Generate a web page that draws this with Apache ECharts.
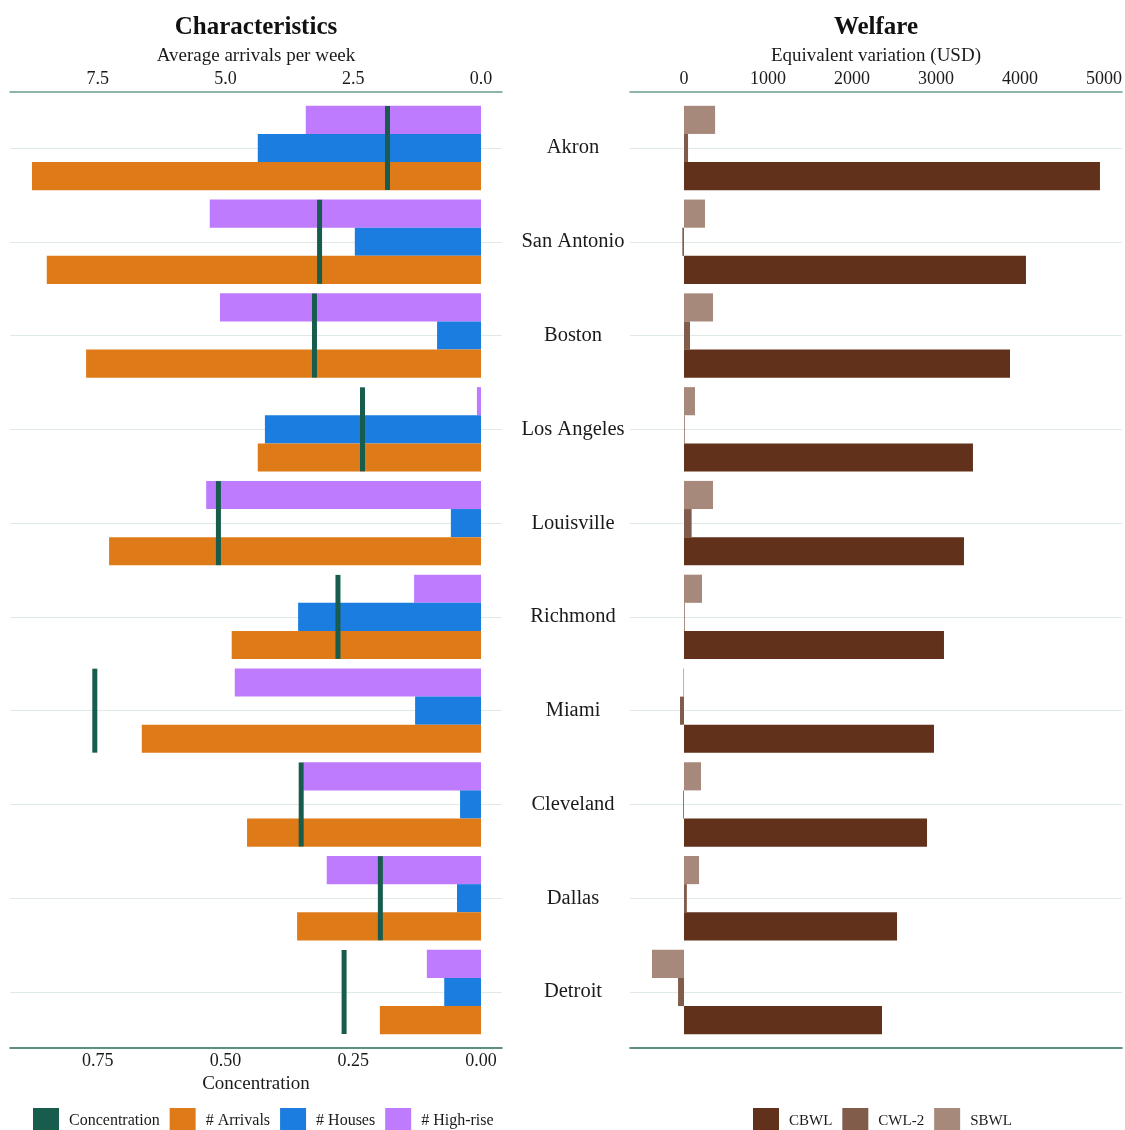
<!DOCTYPE html>
<html>
<head>
<meta charset="utf-8">
<script src="https://cdn.jsdelivr.net/npm/echarts@6/dist/echarts.min.js"></script>
<style>
  html, body { margin: 0; padding: 0; background: #fff; }
  #chart { width: 1125px; height: 1130px; }
</style>
</head>
<body>
<div id="chart"></div>
<script>
// data
var cities = ['Akron', 'San Antonio', 'Boston', 'Los Angeles', 'Louisville', 'Richmond', 'Miami', 'Cleveland', 'Dallas', 'Detroit'];
var arrivals = [8.79, 8.50, 7.73, 4.37, 7.28, 4.88, 6.64, 4.58, 3.60, 1.98];
var houses = [4.37, 2.47, 0.86, 4.23, 0.59, 3.58, 1.29, 0.41, 0.47, 0.72];
var highrise = [3.43, 5.31, 5.11, 0.08, 5.38, 1.31, 4.82, 3.48, 3.02, 1.06];
var concentration = [0.183, 0.316, 0.326, 0.232, 0.514, 0.280, 0.756, 0.352, 0.197, 0.268];
var cbwl = [4952, 4071, 3881, 3440, 3333, 3095, 2976, 2893, 2536, 2357];
var cwl2 = [48, -20, 71, 8, 91, 8, -48, -10, 34, -71];
var sbwl = [370, 250, 345, 131, 345, 214, -8, 202, 179, -381];
var arrivalTicks = [0, 2.5, 5, 7.5];
var concTicks = [0, 0.25, 0.5, 0.75];
var welfareTicks = [0, 1000, 2000, 3000, 4000, 5000];

var FONT = 'Liberation Serif';
var TXT = '#1a1a1a';

function topAxis(grid, min, max, ticks, fmt, name, lineColor) {
    return {
        type: 'value', gridIndex: grid, position: 'top', offset: 56,
        min: min, max: max, inverse: grid === 0,
        name: name, nameLocation: 'middle', nameGap: 25,
        nameTextStyle: {fontFamily: FONT, fontSize: 19, color: TXT},
        axisLine: {show: true, lineStyle: {color: lineColor, width: 1.5}},
        axisTick: {show: false},
        splitLine: {show: false},
        axisLabel: {customValues: ticks, formatter: fmt, margin: 4,
            fontFamily: FONT, fontSize: 18, color: TXT}
    };
}

function catAxis(grid, showLabels) {
    return {
        type: 'category', gridIndex: grid, data: cities, inverse: true, boundaryGap: false,
        axisLine: {show: false}, axisTick: {show: false},
        splitLine: {show: true, lineStyle: {color: '#dfe9e6', width: 1}},
        axisLabel: {show: showLabels, align: 'center', margin: 57,
            fontFamily: FONT, fontSize: 20.5, color: TXT}
    };
}

function barSeries(name, x, y, data, color) {
    return {
        name: name, type: 'bar', xAxisIndex: x, yAxisIndex: y, data: data,
        barGap: '0%', barCategoryGap: '10%', clip: false,
        itemStyle: {color: color}
    };
}

var chart = echarts.init(document.getElementById('chart'));
chart.setOption({
    animation: false,
    backgroundColor: '#fff',
    title: [
        {text: 'Characteristics', left: 256, top: 15, padding: 0, textAlign: 'center',
         textStyle: {fontFamily: FONT, fontSize: 25, fontWeight: 'bold', color: '#111'}},
        {text: 'Welfare', left: 876, top: 15, padding: 0, textAlign: 'center',
         textStyle: {fontFamily: FONT, fontSize: 25, fontWeight: 'bold', color: '#111'}}
    ],
    grid: [
        {left: 10, width: 492, top: 148, height: 844},
        {left: 630, width: 492, top: 148, height: 844}
    ],
    xAxis: [
        topAxis(0, -0.411, 9.22, arrivalTicks, function (v) { return v.toFixed(1); },
            'Average arrivals per week', '#6a9c90'),
        {
            type: 'value', gridIndex: 0, position: 'bottom', offset: 56,
            min: -0.0411, max: 0.922, inverse: true,
            name: 'Concentration', nameLocation: 'middle', nameGap: 24,
            nameTextStyle: {fontFamily: FONT, fontSize: 19, color: TXT},
            axisLine: {show: true, lineStyle: {color: '#2b6a5c', width: 1.5}},
            axisTick: {show: false}, splitLine: {show: false},
            axisLabel: {customValues: concTicks, formatter: function (v) { return v.toFixed(2); },
                margin: 4, fontFamily: FONT, fontSize: 18, color: TXT}
        },
        topAxis(1, -643, 5214, welfareTicks, function (v) { return String(v); },
            'Equivalent variation (USD)', '#6a9c90'),
        {
            type: 'value', gridIndex: 1, position: 'bottom', offset: 56,
            min: -643, max: 5214,
            axisLine: {show: true, lineStyle: {color: '#2b6a5c', width: 1.5}},
            axisTick: {show: false}, splitLine: {show: false}, axisLabel: {show: false}
        }
    ],
    yAxis: [catAxis(0, false), catAxis(1, true)],
    legend: [
        {data: ['Concentration', '# Arrivals', '# Houses', '# High-rise'],
         left: 33, top: 1108, padding: 0, icon: 'rect', itemWidth: 26, itemHeight: 26, itemGap: 10,
         selectedMode: false,
         textStyle: {fontFamily: FONT, fontSize: 16, color: TXT, padding: [0, 0, 0, 5]}},
        {data: ['CBWL', 'CWL-2', 'SBWL'],
         left: 753, top: 1108, padding: 0, icon: 'rect', itemWidth: 26, itemHeight: 26, itemGap: 10,
         selectedMode: false,
         textStyle: {fontFamily: FONT, fontSize: 15, color: TXT, padding: [0, 0, 0, 5]}}
    ],
    series: [
        barSeries('# High-rise', 0, 0, highrise, '#bf7bfe'),
        barSeries('# Houses', 0, 0, houses, '#1a7ddf'),
        barSeries('# Arrivals', 0, 0, arrivals, '#de7b18'),
        {
            name: 'Concentration', type: 'scatter', xAxisIndex: 1, yAxisIndex: 0,
            data: concentration.map(function (v, i) { return [v, i]; }),
            symbol: 'rect', symbolSize: [5, 84], z: 5,
            itemStyle: {color: '#175c4d', opacity: 1}
        },
        barSeries('SBWL', 2, 1, sbwl, '#a6897a'),
        barSeries('CWL-2', 2, 1, cwl2, '#825c4a'),
        barSeries('CBWL', 2, 1, cbwl, '#62311b')
    ]
});
</script>
</body>
</html>
